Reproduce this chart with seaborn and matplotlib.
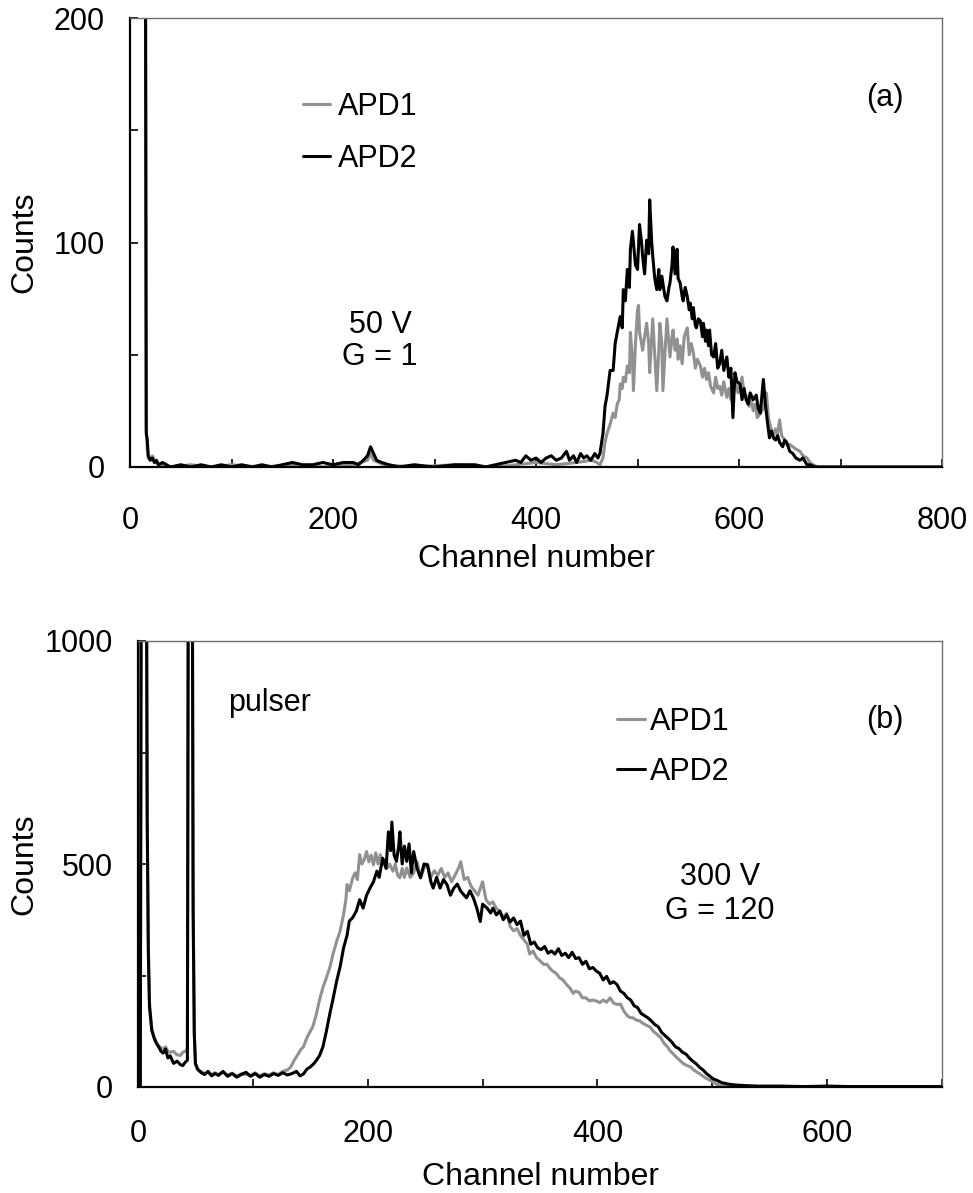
import numpy as np
import pandas as pd
import matplotlib
matplotlib.use("Agg")
import matplotlib.pyplot as plt
import seaborn as sns
from matplotlib.ticker import MultipleLocator

# Panel (a): 50 V, G = 1
ch_a_apd2 = [0, 1, 15, 16, 17, 18, 20, 22, 24, 26, 28, 32, 36, 40, 50, 60, 70, 80, 90, 100,
             110, 120, 130, 140, 150, 160, 170, 180, 190, 200, 210, 220, 225, 230, 234, 237, 240, 243, 248, 255,
             265, 280, 300, 320, 340, 350, 360, 370, 380, 385, 390, 395, 400, 405, 410, 415, 420, 425, 430, 433,
             437, 440, 444, 447, 450, 454, 458, 461, 463, 466, 468, 470, 473, 476, 478, 480, 483, 485, 486, 488,
             490, 492, 493, 495, 496, 498, 500, 502, 504, 505, 507, 509, 511, 512, 514, 515, 517, 519, 521, 522,
             524, 525, 527, 529, 531, 532, 534, 535, 537, 539, 540, 542, 544, 545, 547, 549, 551, 552, 554, 555,
             557, 558, 560, 562, 564, 565, 567, 568, 570, 571, 573, 575, 577, 579, 581, 583, 585, 588, 590, 592,
             594, 596, 598, 601, 603, 605, 607, 609, 611, 614, 617, 619, 621, 624, 626, 628, 630, 632, 634, 636,
             638, 640, 643, 645, 647, 650, 653, 656, 660, 663, 667, 670, 675, 700, 750, 800]
apd2_a = [300, 300, 300, 15, 12, 5, 3, 4, 2, 3, 1, 2, 1, 0, 1, 0, 1, 0, 1, 0,
          1, 0, 1, 0, 1, 2, 1, 1, 2, 1, 2, 2, 1, 3, 5, 9, 6, 3, 2, 1,
          0, 1, 0, 1, 1, 0, 1, 2, 3, 2, 5, 3, 4, 2, 4, 5, 3, 4, 7, 3,
          5, 2, 6, 4, 5, 3, 6, 4, 6, 15, 27, 32, 43, 43, 55, 60, 67, 62, 79, 74,
          88, 80, 97, 105, 100, 90, 88, 108, 100, 94, 86, 101, 95, 119, 100, 94, 84, 79, 88, 79,
          85, 82, 76, 74, 80, 82, 90, 98, 86, 97, 84, 82, 76, 74, 80, 76, 70, 73, 66, 71,
          63, 62, 66, 65, 58, 64, 56, 61, 54, 61, 50, 49, 55, 44, 46, 52, 43, 49, 40, 44,
          22, 42, 38, 37, 30, 35, 30, 28, 33, 30, 32, 26, 24, 39, 28, 20, 13, 16, 13, 12,
          14, 11, 9, 12, 11, 7, 6, 4, 3, 4, 1, 1, 0, 0, 0, 0]

ch_a_apd1 = [0, 1, 15, 16, 17, 18, 20, 22, 25, 30, 40, 60, 80, 100, 130, 160, 190, 220, 234, 237,
             240, 250, 280, 320, 360, 380, 400, 420, 440, 455, 460, 463, 466, 468, 470, 473, 476, 478, 480, 482,
             483, 485, 486, 488, 490, 492, 493, 495, 496, 498, 500, 501, 502, 504, 505, 507, 509, 511, 512, 514,
             515, 517, 519, 521, 522, 524, 525, 527, 529, 531, 532, 534, 535, 537, 539, 540, 542, 544, 546, 549,
             551, 553, 555, 557, 559, 562, 564, 566, 568, 570, 572, 575, 577, 579, 581, 583, 585, 588, 590, 592,
             594, 597, 599, 601, 603, 605, 608, 610, 612, 614, 616, 618, 621, 624, 627, 629, 631, 634, 636, 638,
             640, 642, 645, 647, 650, 653, 656, 660, 663, 667, 670, 673, 678, 700, 800]
apd1_a = [300, 300, 300, 18, 8, 4, 3, 5, 2, 1, 0, 1, 0, 1, 0, 1, 0, 1, 3, 6,
          3, 1, 0, 1, 0, 1, 2, 1, 2, 3, 2, 1, 4, 11, 15, 19, 24, 22, 28, 30,
          37, 35, 40, 38, 45, 42, 60, 48, 34, 55, 70, 72, 60, 55, 52, 58, 64, 55, 42, 58,
          66, 50, 34, 52, 64, 55, 34, 50, 66, 55, 49, 58, 61, 52, 57, 48, 54, 46, 58, 62,
          50, 55, 51, 44, 48, 45, 40, 44, 39, 42, 36, 33, 40, 35, 36, 32, 38, 31, 35, 30,
          33, 38, 33, 36, 40, 33, 31, 27, 30, 25, 28, 22, 24, 26, 33, 22, 18, 14, 17, 15,
          21, 14, 12, 10, 10, 9, 8, 7, 5, 4, 2, 1, 0, 0, 0]

# Panel (b): 300 V, G = 120
ch_b_apd2 = [0, 2, 3, 7, 8, 9, 10, 12, 14, 16, 18, 20, 22, 24, 26, 28, 31, 34, 37, 39,
             41, 43, 44, 47, 48, 49, 50, 52, 55, 58, 61, 64, 67, 70, 74, 78, 82, 86, 90, 94,
             98, 102, 106, 110, 114, 118, 122, 126, 130, 134, 138, 141, 144, 147, 150, 153, 155, 158, 161, 164,
             167, 170, 173, 176, 179, 182, 184, 187, 190, 193, 196, 199, 202, 205, 208, 210, 213, 216, 218, 220,
             221, 223, 225, 227, 228, 230, 232, 234, 236, 238, 240, 243, 246, 249, 252, 255, 257, 260, 263, 266,
             269, 272, 275, 278, 281, 284, 286, 289, 292, 295, 298, 300, 304, 307, 309, 312, 315, 318, 321, 324,
             327, 330, 333, 336, 339, 342, 345, 348, 351, 354, 357, 360, 363, 366, 369, 372, 375, 378, 381, 384,
             387, 390, 393, 396, 399, 402, 405, 408, 411, 414, 417, 420, 423, 426, 429, 432, 435, 438, 441, 444,
             447, 450, 453, 456, 459, 462, 465, 468, 471, 474, 477, 480, 483, 486, 489, 492, 495, 498, 501, 504,
             508, 513, 518, 523, 530, 540, 560, 580, 600, 620, 650, 700]
apd2_b = [0, 0, 1500, 1500, 600, 300, 180, 127, 110, 98, 90, 80, 76, 85, 65, 70, 53, 58, 50, 48,
          55, 60, 1500, 1500, 400, 120, 53, 40, 32, 28, 35, 25, 30, 26, 35, 24, 30, 22, 28, 33,
          24, 30, 22, 28, 24, 30, 26, 32, 27, 30, 35, 25, 29, 40, 45, 52, 59, 70, 90, 125,
          164, 200, 238, 270, 312, 340, 372, 380, 394, 420, 401, 430, 446, 460, 484, 470, 513, 490, 572, 530,
          594, 520, 506, 540, 572, 500, 540, 506, 545, 480, 528, 490, 469, 500, 498, 460, 446, 470, 446, 465,
          454, 430, 446, 455, 439, 430, 424, 440, 424, 401, 371, 410, 401, 390, 401, 386, 394, 375, 386, 370,
          379, 364, 372, 340, 349, 320, 325, 312, 308, 315, 300, 305, 298, 310, 295, 300, 290, 302, 288, 290,
          275, 282, 265, 268, 260, 255, 240, 248, 232, 236, 230, 215, 210, 200, 195, 182, 178, 165, 160, 155,
          148, 140, 135, 122, 115, 108, 100, 90, 86, 78, 74, 65, 58, 52, 44, 38, 30, 24, 18, 15,
          10, 7, 5, 4, 3, 2, 2, 1, 2, 1, 1, 1]

ch_b_apd1 = [0, 2, 3, 7, 8, 9, 10, 12, 14, 16, 18, 20, 22, 24, 26, 28, 31, 34, 37, 39,
             41, 43, 44, 47, 48, 49, 50, 52, 55, 58, 61, 64, 67, 70, 74, 78, 82, 86, 90, 94,
             98, 102, 106, 110, 114, 118, 122, 126, 130, 133, 136, 139, 142, 144, 147, 150, 152, 155, 158, 161,
             164, 167, 170, 173, 176, 179, 181, 182, 184, 187, 189, 191, 193, 195, 197, 199, 201, 203, 205, 207,
             209, 211, 213, 215, 217, 219, 222, 224, 226, 228, 230, 232, 234, 237, 240, 243, 246, 249, 252, 255,
             258, 261, 264, 267, 270, 273, 276, 279, 281, 284, 287, 290, 293, 296, 298, 300, 303, 306, 309, 312,
             315, 318, 321, 324, 327, 330, 333, 336, 339, 341, 344, 347, 350, 353, 356, 359, 361, 364, 367, 370,
             373, 376, 379, 381, 384, 387, 390, 393, 396, 399, 402, 405, 408, 411, 414, 417, 420, 423, 426, 428,
             431, 434, 437, 440, 443, 446, 449, 452, 455, 458, 461, 463, 466, 469, 472, 475, 478, 481, 484, 487,
             489, 492, 495, 498, 501, 504, 507, 512, 520, 540, 600, 650, 700]
apd1_b = [0, 0, 1500, 1500, 620, 320, 190, 130, 112, 100, 92, 88, 85, 90, 80, 78, 80, 72, 71, 78,
          80, 85, 1500, 1500, 400, 120, 50, 38, 35, 30, 33, 28, 32, 28, 33, 27, 31, 25, 30, 28,
          26, 32, 25, 30, 27, 32, 28, 35, 38, 45, 60, 72, 85, 90, 110, 125, 134, 160, 195, 223,
          245, 268, 300, 327, 350, 387, 420, 454, 440, 469, 480, 465, 521, 500, 510, 528, 505, 520, 498, 525,
          500, 521, 505, 510, 491, 500, 484, 500, 475, 469, 490, 470, 491, 470, 480, 505, 470, 490, 500, 470,
          485, 475, 490, 470, 480, 460, 475, 490, 505, 465, 470, 450, 440, 430, 445, 460, 420, 410, 415, 400,
          395, 380, 390, 360, 350, 355, 340, 330, 320, 298, 305, 290, 283, 275, 275, 265, 260, 255, 245, 240,
          230, 222, 210, 215, 212, 200, 200, 193, 195, 193, 189, 195, 190, 200, 188, 185, 186, 170, 160, 156,
          155, 150, 148, 142, 138, 134, 124, 118, 111, 98, 90, 82, 74, 66, 59, 52, 48, 45, 38, 33,
          30, 24, 19, 15, 10, 6, 4, 2, 1, 1, 0, 1, 0]

gris = "#919191"
negro = "black"

sns.set_style("white")
plt.rcParams["font.family"] = ["Liberation Sans", "DejaVu Sans"]
plt.rcParams["font.size"] = 22
plt.rcParams["text.color"] = "black"
plt.rcParams["axes.labelcolor"] = "black"
plt.rcParams["xtick.color"] = "black"
plt.rcParams["ytick.color"] = "black"

fig = plt.figure(figsize=(9.73, 11.93), dpi=100)
ax_a = fig.add_axes([130 / 973, 726 / 1193, 812 / 973, 449 / 1193])
ax_b = fig.add_axes([138 / 973, 106 / 1193, 804 / 973, 446 / 1193])

df_a1 = pd.DataFrame({"ch": ch_a_apd1, "counts": apd1_a})
df_a2 = pd.DataFrame({"ch": ch_a_apd2, "counts": apd2_a})
df_b1 = pd.DataFrame({"ch": ch_b_apd1, "counts": apd1_b})
df_b2 = pd.DataFrame({"ch": ch_b_apd2, "counts": apd2_b})

sns.lineplot(data=df_a1, x="ch", y="counts", ax=ax_a, color=gris, lw=2.2, label="APD1")
sns.lineplot(data=df_a2, x="ch", y="counts", ax=ax_a, color=negro, lw=2.2, label="APD2")
sns.lineplot(data=df_b1, x="ch", y="counts", ax=ax_b, color=gris, lw=2.2, label="APD1")
sns.lineplot(data=df_b2, x="ch", y="counts", ax=ax_b, color=negro, lw=2.2, label="APD2")

ax_a.set_xlim(0, 800)
ax_a.set_ylim(0, 200)
ax_a.xaxis.set_major_locator(MultipleLocator(200))
ax_a.xaxis.set_minor_locator(MultipleLocator(100))
ax_a.yaxis.set_major_locator(MultipleLocator(100))
ax_a.yaxis.set_minor_locator(MultipleLocator(50))

ax_b.set_xlim(0, 700)
ax_b.set_ylim(0, 1000)
ax_b.xaxis.set_major_locator(MultipleLocator(200))
ax_b.xaxis.set_minor_locator(MultipleLocator(100))
ax_b.yaxis.set_major_locator(MultipleLocator(500))
ax_b.yaxis.set_minor_locator(MultipleLocator(250))

for ax, xpad, ylx in [(ax_a, 28, -0.112), (ax_b, 23, -0.123)]:
    ax.set_xlabel("Channel number", fontsize=23)
    ax.set_ylabel("Counts", fontsize=23)
    ax.yaxis.set_label_coords(ylx, 0.5)
    ax.tick_params(axis="both", which="both", direction="in", length=6, width=1.2,
                   labelsize=22, color="black", bottom=True, left=True,
                   top=False, right=False)
    ax.tick_params(axis="x", which="both", pad=xpad)
    ax.tick_params(axis="y", which="both", pad=18)
    for s in ["left", "bottom"]:
        ax.spines[s].set_color("black")
        ax.spines[s].set_linewidth(1.6)
    for s in ["top", "right"]:
        ax.spines[s].set_color("#6e6e6e")
        ax.spines[s].set_linewidth(1.0)

ax_a.xaxis.set_label_coords(0.5, -0.171)
ax_b.xaxis.set_label_coords(0.5, -0.168)

ax_a.legend(loc="upper left", bbox_to_anchor=(0.213, 0.835), frameon=False, fontsize=22,
            handlelength=0.87, handletextpad=0.26, labelspacing=0.72, borderpad=0, borderaxespad=0)
ax_b.legend(loc="upper left", bbox_to_anchor=(0.596, 0.852), frameon=False, fontsize=22,
            handlelength=0.9, handletextpad=0.18, labelspacing=0.66, borderpad=0, borderaxespad=0)

ax_a.text(0.930, 0.822, "(a)", transform=ax_a.transAxes, ha="center", va="center", fontsize=22)
ax_a.text(0.308, 0.316, "50 V", transform=ax_a.transAxes, ha="center", va="center", fontsize=22)
ax_a.text(0.308, 0.245, "G = 1", transform=ax_a.transAxes, ha="center", va="center", fontsize=22)

ax_b.text(0.164, 0.861, "pulser", transform=ax_b.transAxes, ha="center", va="center", fontsize=22)
ax_b.text(0.929, 0.823, "(b)", transform=ax_b.transAxes, ha="center", va="center", fontsize=22)
ax_b.text(0.724, 0.471, "300 V", transform=ax_b.transAxes, ha="center", va="center", fontsize=22)
ax_b.text(0.724, 0.395, "G = 120", transform=ax_b.transAxes, ha="center", va="center", fontsize=22)

fig.savefig("out.png", dpi=100)
